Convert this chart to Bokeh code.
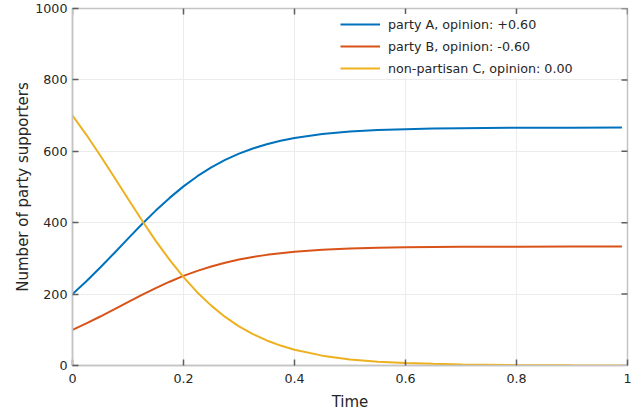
import math
from bokeh.plotting import figure
from bokeh.models import (FixedTicker, NumeralTickFormatter, Legend, LegendItem, Range1d)
from bokeh.embed import file_html
from bokeh.resources import INLINE

# ---- data ----
time = [0, 0.025, 0.05, 0.075, 0.1, 0.125, 0.15, 0.175, 0.2, 0.225, 0.25, 0.275,
        0.3, 0.325, 0.35, 0.375, 0.4, 0.45, 0.5, 0.55, 0.6, 0.65, 0.7, 0.8, 0.9, 0.99]
party_a = [200, 235.9, 274.4, 314.6, 355.4, 395.5, 433.9, 469.5, 501.7, 530.2, 554.9, 575.9,
           593.5, 608.0, 619.9, 629.5, 637.2, 648.3, 655.3, 659.6, 662.0, 663.6, 664.7, 665.9,
           666.3, 666.5]
party_b = [100, 117.9, 137.2, 157.3, 177.7, 197.8, 216.9, 234.7, 250.9, 265.1, 277.4, 288.0,
           296.7, 304.0, 309.9, 314.7, 318.6, 324.1, 327.6, 329.8, 331.0, 331.8, 332.3, 332.9,
           333.2, 333.3]
party_c = [700, 646.2, 588.4, 528.0, 466.9, 406.7, 349.2, 295.8, 247.4, 204.7, 167.7, 136.1,
           109.8, 88.0, 70.2, 55.8, 44.2, 27.6, 17.1, 10.5, 7.0, 4.6, 3.0, 1.2, 0.5, 0.2]

labels = ["party A, opinion: +0.60", "party B, opinion: -0.60", "non-partisan C, opinion: 0.00"]
colors = ["#0072BD", "#D95319", "#EDB120"]
x_ticks = [0, 0.2, 0.4, 0.6, 0.8, 1]
y_ticks = [0, 200, 400, 600, 800, 1000]
x_min, x_max = 0, 1
y_min, y_max = 0, 1000

FONT = "DejaVu Sans"
TXT = "#262626"
BOX = "#c4c4c4"
TICK = "#5e5e5e"

p = figure(width=635, height=414, output_backend="svg", toolbar_location=None,
           x_range=Range1d(x_min, x_max), y_range=Range1d(y_min, y_max),
           min_border_left=72, min_border_right=8, min_border_top=8, min_border_bottom=49,
           x_axis_label="Time", y_axis_label="Number of party supporters")
p.outline_line_color = BOX
p.outline_line_width = 1.5
p.background_fill_color = "white"

p.xgrid.ticker = FixedTicker(ticks=x_ticks)
p.ygrid.ticker = FixedTicker(ticks=y_ticks)
p.grid.grid_line_color = "#ececec"
p.grid.grid_line_width = 1

renderers = []
for ys, c in zip([party_a, party_b, party_c], colors):
    r = p.line(time, ys, line_color=c, line_width=2)
    renderers.append(r)

# mirrored inward ticks on the top and right edges of the box
p.scatter(x_ticks, [y_max] * len(x_ticks), marker="dash", size=12, angle=math.pi / 2,
          line_color=TICK, line_width=1.5)
p.scatter([x_max] * len(y_ticks), y_ticks, marker="dash", size=12,
          line_color=TICK, line_width=1.5)

p.xaxis.ticker = FixedTicker(ticks=x_ticks)
p.xaxis.formatter = NumeralTickFormatter(format="0.[0]")
p.yaxis.ticker = FixedTicker(ticks=y_ticks)

for ax in p.axis:
    ax.axis_line_color = BOX
    ax.axis_line_width = 1.5
    ax.major_tick_line_color = TICK
    ax.major_tick_line_width = 1.5
    ax.major_tick_in = 6
    ax.major_tick_out = 0
    ax.minor_tick_line_color = None
    ax.major_label_text_font = FONT
    ax.major_label_text_font_size = "12.7px"
    ax.major_label_text_color = TXT
    ax.axis_label_text_font = FONT
    ax.axis_label_text_font_size = "15px"
    ax.axis_label_text_font_style = "normal"
    ax.axis_label_text_color = TXT

p.xaxis.major_label_standoff = 8
p.xaxis.axis_label_standoff = 7
p.yaxis.major_label_standoff = 5
p.yaxis.axis_label_standoff = 0

legend = Legend(items=[LegendItem(label=l, renderers=[r]) for l, r in zip(labels, renderers)],
                location=(268, 287), padding=6, spacing=2, label_height=20,
                glyph_width=40, glyph_height=20, label_standoff=8,
                label_text_font=FONT, label_text_font_size="12.7px",
                label_text_color=TXT, border_line_color=None,
                background_fill_color="white", background_fill_alpha=1.0)
p.add_layout(legend)

open("out.html", "w").write(file_html(p, INLINE))
